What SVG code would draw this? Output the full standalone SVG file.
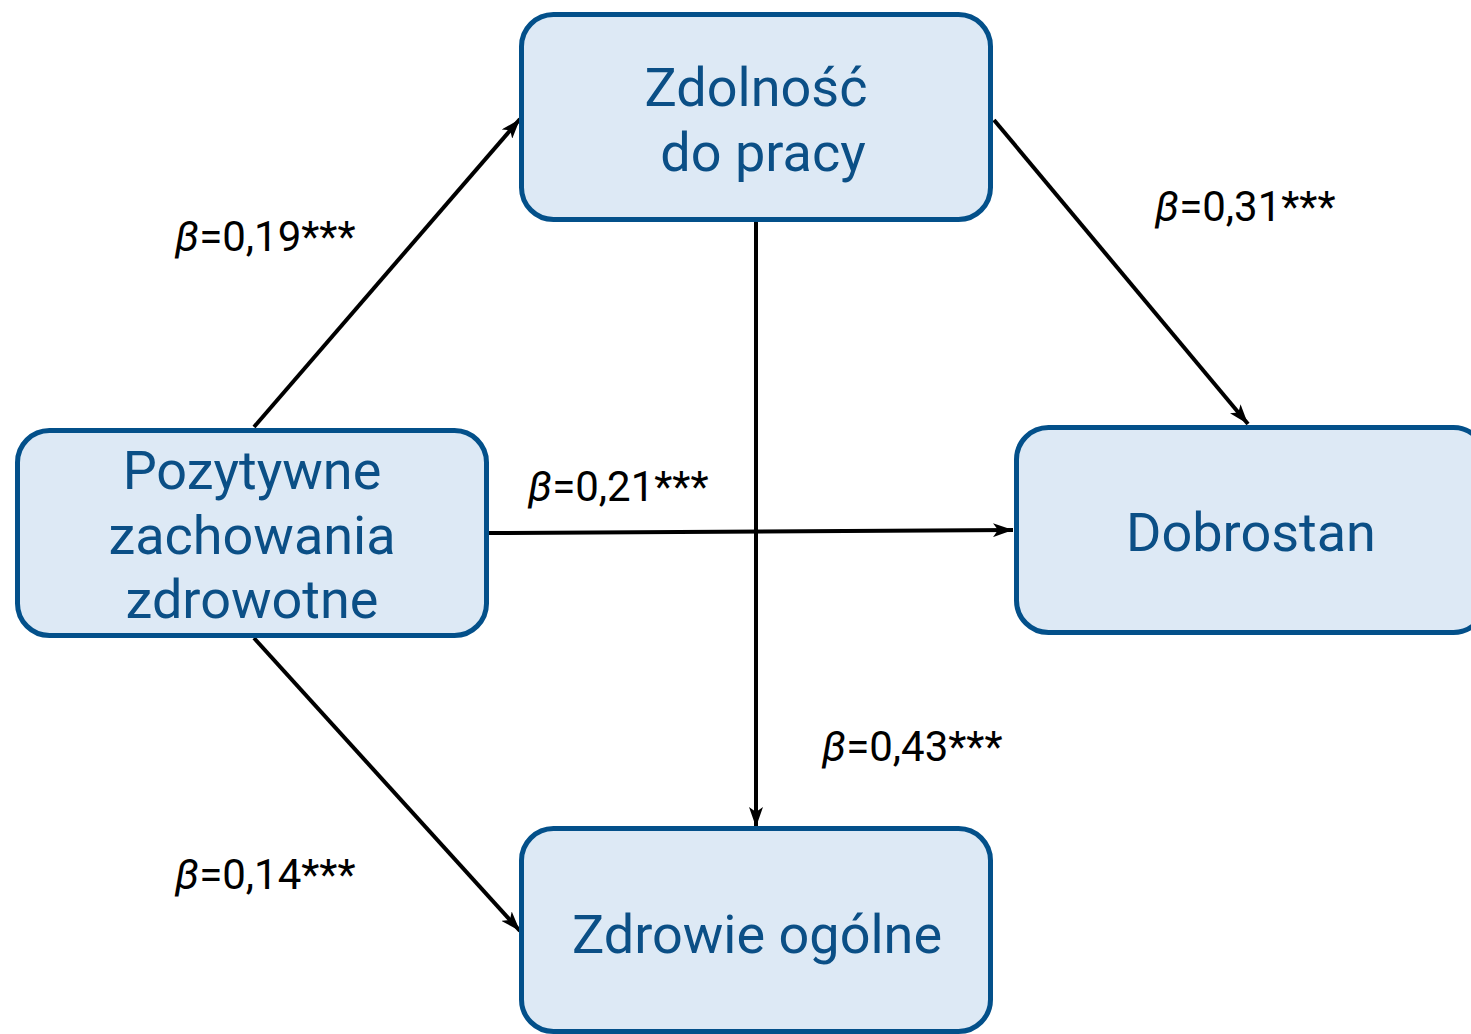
<svg xmlns="http://www.w3.org/2000/svg" width="1471" height="1034" viewBox="0 0 1471 1034">
<style>
.box{fill:#dde9f5;stroke:#03508a;stroke-width:5}
.nt{font-family:Roboto,"Liberation Sans",sans-serif;font-size:54px;fill:#0b4f86;text-anchor:middle}
.lb{font-family:Roboto,"Liberation Sans",sans-serif;font-size:42px;fill:#000}
.ln{stroke:#000;stroke-width:4;fill:none;marker-end:url(#ah)}
</style>
<defs>
<marker id="ah" viewBox="0 0 20 14" refX="20" refY="7" markerWidth="20" markerHeight="14" markerUnits="userSpaceOnUse" orient="auto">
<path d="M0,0 L20,7 L0,14 L5,7 Z" fill="#000"/>
</marker>
</defs>
<rect width="1471" height="1034" fill="#fff"/>
<g id="connectors">
<line class="ln" x1="254" y1="427" x2="520" y2="119"/>
<line class="ln" x1="994" y1="120" x2="1248" y2="424"/>
<line class="ln" x1="489" y1="533" x2="1013" y2="530"/>
<line class="ln" x1="756" y1="222" x2="756" y2="827"/>
<line class="ln" x1="254" y1="638" x2="520" y2="931"/>
</g>
<g id="node-zdolnosc">
<rect class="box" x="521.5" y="14.5" width="469" height="205" rx="32"/>
<text class="nt" x="756" y="106">Zdolność</text>
<text class="nt" x="763" y="171">do pracy</text>
</g>
<g id="node-pozytywne">
<rect class="box" x="17.5" y="430.5" width="469" height="205" rx="32"/>
<text class="nt" x="252" y="489">Pozytywne</text>
<text class="nt" x="252" y="554">zachowania</text>
<text class="nt" x="252" y="618">zdrowotne</text>
</g>
<g id="node-dobrostan">
<rect class="box" x="1016.5" y="427.5" width="469" height="205" rx="32"/>
<text class="nt" x="1251" y="551">Dobrostan</text>
</g>
<g id="node-zdrowie">
<rect class="box" x="521.5" y="828.5" width="469" height="203" rx="32"/>
<text class="nt" x="757" y="953">Zdrowie ogólne</text>
</g>
<g id="labels">
<text class="lb" x="175" y="251"><tspan font-style="italic">β</tspan>=0,19***</text>
<text class="lb" x="1155" y="221"><tspan font-style="italic">β</tspan>=0,31***</text>
<text class="lb" x="528" y="501"><tspan font-style="italic">β</tspan>=0,21***</text>
<text class="lb" x="822" y="761"><tspan font-style="italic">β</tspan>=0,43***</text>
<text class="lb" x="175" y="889"><tspan font-style="italic">β</tspan>=0,14***</text>
</g>
</svg>
